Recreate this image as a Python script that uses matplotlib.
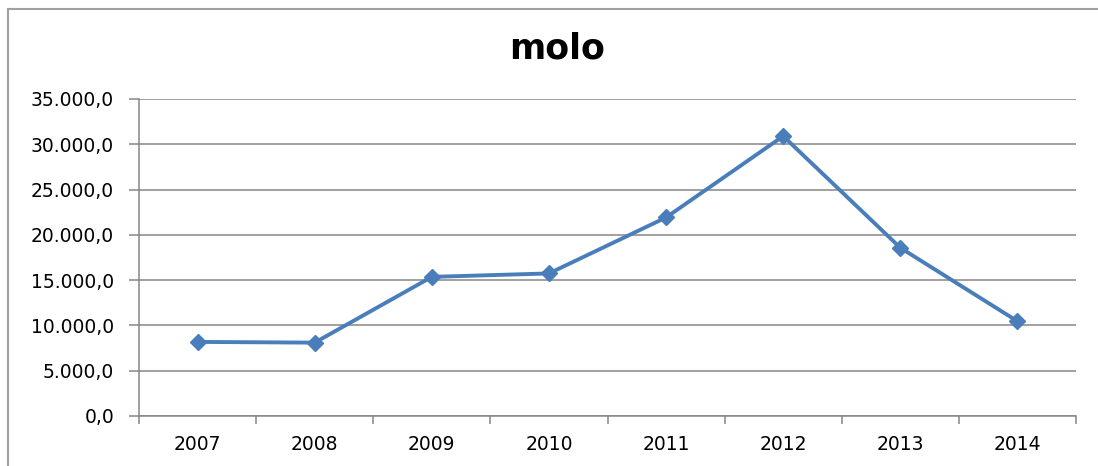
import matplotlib
matplotlib.use("Agg")
import matplotlib.pyplot as plt
from matplotlib.lines import Line2D
from matplotlib.ticker import FuncFormatter, FixedLocator, NullFormatter
import numpy as np

years = ["2007", "2008", "2009", "2010", "2011", "2012", "2013", "2014"]
values = [8180, 8100, 15360, 15740, 21920, 30900, 18570, 10460]
yticks = [0, 5000, 10000, 15000, 20000, 25000, 30000, 35000]

def fmt(v, pos):
    s = f"{v:,.1f}"
    return s.replace(",", "X").replace(".", ",").replace("X", ".")

fig = plt.figure(figsize=(10.98, 4.66), dpi=100)
ax = fig.add_axes([0.1266, 0.1073, 0.98 - 0.1266, 0.7876 - 0.1073])

x = np.arange(len(years)) + 0.5
ax.plot(x, values, color="#4a7ebb", lw=2.8, marker="D", markersize=8.5,
        markerfacecolor="#4a7ebb", markeredgecolor="#4a7ebb", zorder=3)

ax.set_xlim(0, len(years))
ax.set_ylim(0, 35000)
ax.set_yticks(yticks)
ax.yaxis.set_major_formatter(FuncFormatter(fmt))
ax.grid(axis="y", color="#868686", lw=1.1)
ax.set_axisbelow(True)

# category labels centred, tick marks on boundaries
ax.xaxis.set_major_locator(FixedLocator(np.arange(len(years) + 1)))
ax.xaxis.set_major_formatter(NullFormatter())
ax.xaxis.set_minor_locator(FixedLocator(x))
ax.set_xticklabels(years, minor=True)
ax.tick_params(axis="x", which="minor", length=0, pad=14, labelsize=13.5)
ax.tick_params(axis="x", which="major", length=6, color="#868686", width=1.1)
ax.tick_params(axis="y", length=7, color="#868686", width=1.1, labelsize=13.5, pad=11)

for s in ["top", "right"]:
    ax.spines[s].set_visible(False)
for s in ["left", "bottom"]:
    ax.spines[s].set_color("#868686")
    ax.spines[s].set_linewidth(1.1)

fig.text(0.507, 0.895, "molo", ha="center", va="center", fontsize=25, fontweight="bold")

# chart area border
fig.add_artist(Line2D([8 / 1098, 8 / 1098], [0, 1 - 9 / 466], color="#a0a0a0", lw=1.5, transform=fig.transFigure))
fig.add_artist(Line2D([8 / 1098, 1], [1 - 9 / 466, 1 - 9 / 466], color="#a0a0a0", lw=1.5, transform=fig.transFigure))

fig.savefig("out.png", dpi=100)
